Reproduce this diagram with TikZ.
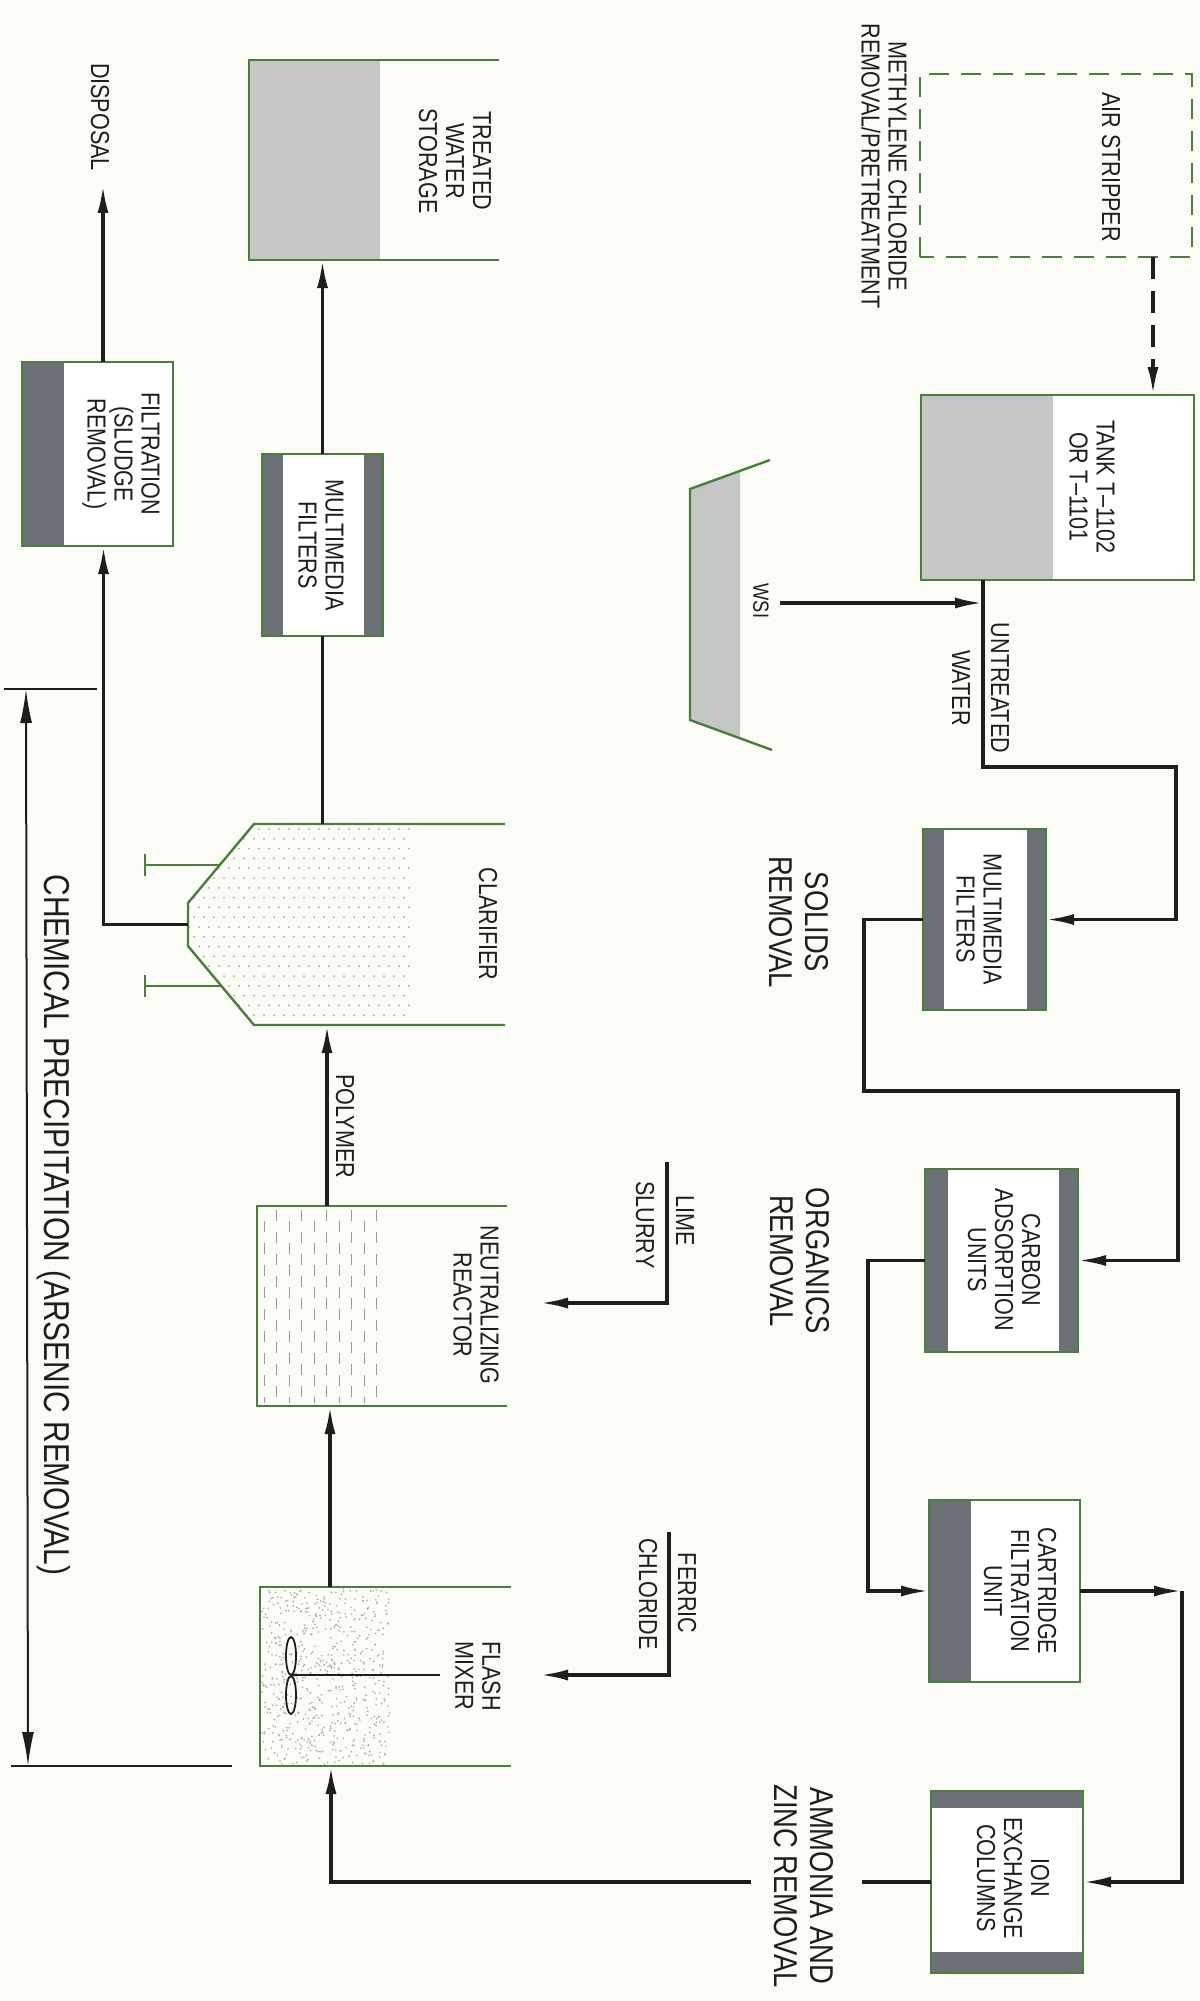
\documentclass[tikz,border=0pt]{standalone}
\usepackage{fontspec}
\setmainfont[FakeStretch=0.83]{Liberation Sans}
\usetikzlibrary{arrows.meta,calc}
\definecolor{bg}{HTML}{FCFCF6}
\definecolor{grn}{RGB}{72,128,58}
\definecolor{lgray}{HTML}{C5C7C7}
\definecolor{dgray}{HTML}{6C7077}
\definecolor{ink}{HTML}{1E1E1E}
\newcommand{\smallf}{\fontsize{26}{27}\selectfont}
\newcommand{\bigf}{\fontsize{33}{36}\selectfont}
\newcommand{\hugef}{\fontsize{36}{38}\selectfont}
\newcommand{\tinyf}{\fontsize{22}{24}\selectfont}
\begin{document}
\begin{tikzpicture}[x=1pt,y=-1pt,
  unit/.style={rectangle,inner sep=0pt,outer sep=0pt,draw=grn,line width=2.4pt,fill=white},
  ghost/.style={rectangle,inner sep=0pt,outer sep=0pt},
  vessel/.style={draw=grn,line width=2.4pt,line join=miter},
  flow/.style={draw=ink,line width=3.4pt,-{Latex[length=28pt,width=11pt]}},
  plain/.style={draw=ink,line width=3.4pt},
  dflow/.style={draw=ink,line width=3.6pt,dash pattern=on 22pt off 12pt,-{Latex[length=28pt,width=11pt]}},
  dim/.style={draw=ink,line width=2pt},
  lbl/.style={rotate=-90,align=center,inner sep=0pt,text=ink,font=\smallf},
  biglbl/.style={lbl,font=\bigf},
  band/.style={fill=dgray}]
\useasboundingbox (0,0) rectangle (1199,2001);
\fill[bg] (0,0) rectangle (1199,2001);

% ---------- left column (chemical precipitation) ----------
% treated water storage
\node[ghost,minimum width=250pt,minimum height=200pt] (stor) at (374,160) {};
\fill[lgray] (stor.north west) rectangle ([xshift=131pt]stor.south west);
\draw[vessel] (stor.north east) -- (stor.north west) -- (stor.south west) -- (stor.south east);
\node[lbl] (stort) at (455,161) {TREATED\\WATER\\STORAGE};

% multimedia filters (lower)
\node[unit,minimum width=121pt,minimum height=182pt] (mmf2) at (322.5,545) {};
\fill[band] (mmf2.south west) rectangle ([xshift=21pt]mmf2.north west);
\fill[band] (mmf2.south east) rectangle ([xshift=-19pt]mmf2.north east);
\draw[grn,line width=2.4pt] (mmf2.south west) rectangle (mmf2.north east);
\node[lbl] (mmf2t) at (321,545) {MULTIMEDIA\\FILTERS};

% filtration (sludge removal)
\node[unit,minimum width=151pt,minimum height=184pt] (filt) at (97.5,454) {};
\fill[band] (filt.south west) rectangle ([xshift=42pt]filt.north west);
\draw[grn,line width=2.4pt] (filt.south west) rectangle (filt.north east);
\node[lbl] (filtt) at (121,454) {FILTRATION\\(SLUDGE\\REMOVAL)};

\node[lbl] (dispt) at (100,117) {DISPOSAL};
\coordinate (disp) at (103,185);

% clarifier
\node[ghost,minimum width=317pt,minimum height=201pt] (clar) at (346.5,924.5) {};
\begin{scope}
  \clip (413,824) -- (254,824) -- (188,903) -- (188,946) -- (254,1025) -- (413,1025) -- cycle;
  \foreach \r in {0,...,20}
    \foreach \c in {0,...,23}
      \fill[gray!70] ({189+\c*10+mod(\r,2)*5},{829+\r*9.8}) circle (1);
\end{scope}
\draw[vessel] (505,824) -- (254,824) -- (188,903) -- (188,946) -- (254,1025) -- (505,1025);
\draw[vessel] (220,865) -- (145,865) (145,854) -- (145,876);
\draw[vessel] (221,986) -- (145,986) (145,975) -- (145,997);
\node[lbl] (clart) at (488,924) {CLARIFIER};

\node[lbl] (polyt) at (345,1126) {POLYMER};

% neutralizing reactor
\node[ghost,minimum width=250pt,minimum height=200pt] (neut) at (382,1306) {};
\foreach \x [count=\k] in {264,276.5,...,377}
  \draw[gray!80,line width=1pt,dash pattern=on 11pt off 11pt,dash phase={mod(\k,2)*11pt}] (\x,1210) -- (\x,1403);
\draw[vessel] (neut.north east) -- (neut.north west) -- (neut.south west) -- (neut.south east);
\node[lbl] (neutt) at (476,1305) {NEUTRALIZING\\REACTOR};

% flash mixer
\node[ghost,minimum width=251pt,minimum height=179pt] (mix) at (385.5,1676.5) {};
\pgfmathsetseed{7}
\foreach \i in {1,...,650}
  \fill[gray!70] ({262+128*rnd},{1589+175*rnd}) circle (0.9);
\draw[vessel] (mix.north east) -- (mix.north west) -- (mix.south west) -- (mix.south east);
\draw[ink,line width=1.8pt] (291,1675) -- (440,1675);
\draw[ink,line width=1.8pt] (291,1656) ellipse (5 and 19);
\draw[ink,line width=1.8pt] (291,1695) ellipse (5 and 19);
\node[lbl] (mixt) at (478,1676) {FLASH\\MIXER};

% dimension
\coordinate (dimtop) at (26,689);
\coordinate (dimbot) at (28,1766);
\draw[dim] (4,689) -- (97,689);
\draw[dim] (11,1766) -- (232,1766);
\draw[dim,{Latex[length=34pt,width=12pt]}-{Latex[length=34pt,width=12pt]}] (dimtop) -- (dimbot);
\node[lbl,font=\hugef] (chemt) at (54,1225) {CHEMICAL PRECIPITATION (ARSENIC REMOVAL)};

% ---------- right column ----------
\node[lbl] (meth) at (884,166) {METHYLENE CHLORIDE\\REMOVAL/PRETREATMENT};

\node[ghost,minimum width=272pt,minimum height=183pt] (air) at (1056,165.5) {};
\draw[grn,line width=2.4pt,dash pattern=on 20pt off 12pt] (air.south west) rectangle (air.north east);
\node[lbl] (airt) at (1111,167) {AIR STRIPPER};

\node[unit,minimum width=273pt,minimum height=185pt] (tank) at (1057.5,487.5) {};
\fill[lgray] (tank.north west) rectangle ([xshift=132pt]tank.south west);
\draw[grn,line width=2.4pt] (tank.south west) rectangle (tank.north east);
\node[lbl] (tankt) at (1092,487) {TANK T--1102\\OR T--1101};

% WSI
\node[ghost,minimum width=82pt,minimum height=290pt] (wsi) at (731,605) {};
\fill[lgray] (740,471) -- (690,489) -- (690,720) -- (740,738) -- cycle;
\draw[vessel] (770,460) -- (690,489) -- (690,720) -- (772,750);
\node[lbl,font=\tinyf] (wsit) at (761,601) {WSI};

\node[lbl] (untr1) at (1000,688) {UNTREATED};
\node[lbl] (untr2) at (961,688) {WATER};

% multimedia filters (upper)
\node[unit,minimum width=123pt,minimum height=181pt] (mmf1) at (984.5,919.5) {};
\fill[band] (mmf1.south west) rectangle ([xshift=21pt]mmf1.north west);
\fill[band] (mmf1.south east) rectangle ([xshift=-19pt]mmf1.north east);
\draw[grn,line width=2.4pt] (mmf1.south west) rectangle (mmf1.north east);
\node[lbl] (mmf1t) at (979,919) {MULTIMEDIA\\FILTERS};

\node[biglbl] (solt) at (799,922) {SOLIDS\\REMOVAL};

% carbon adsorption
\node[unit,minimum width=153pt,minimum height=183pt] (carb) at (1001.5,1260.5) {};
\fill[band] (carb.south west) rectangle ([xshift=23pt]carb.north west);
\fill[band] (carb.south east) rectangle ([xshift=-19pt]carb.north east);
\draw[grn,line width=2.4pt] (carb.south west) rectangle (carb.north east);
\node[lbl] (carbt) at (1004,1260) {CARBON\\ADSORPTION\\UNITS};

\node[biglbl] (orgt) at (800,1261) {ORGANICS\\REMOVAL};

\node[lbl] (lime1) at (685,1221) {LIME};
\node[lbl] (lime2) at (645,1225) {SLURRY};

% cartridge filtration
\node[unit,minimum width=151pt,minimum height=182pt] (cart) at (1004.5,1591) {};
\fill[band] (cart.south west) rectangle ([xshift=42pt]cart.north west);
\draw[grn,line width=2.4pt] (cart.south west) rectangle (cart.north east);
\node[lbl] (cartt) at (1020,1591) {CARTRIDGE\\FILTRATION\\UNIT};

\node[lbl] (fer1) at (687,1593) {FERRIC};
\node[lbl] (fer2) at (648,1594) {CHLORIDE};

% ion exchange
\node[unit,minimum width=152pt,minimum height=182pt] (ion) at (1007,1882) {};
\fill[band] (ion.north west) rectangle ([yshift=-17pt]ion.north east);
\fill[band] (ion.south west) rectangle ([yshift=21pt]ion.south east);
\draw[grn,line width=2.4pt] (ion.south west) rectangle (ion.north east);
\node[lbl] (iont) at (1013,1878) {ION\\EXCHANGE\\COLUMNS};

\node[biglbl] (ammt) at (804,1886) {AMMONIA AND\\ZINC REMOVAL};

% ---------- connectors ----------
\coordinate (dx) at (1153,0);
\draw[dflow] (air.south -| dx) -- (tank.north -| dx);
\coordinate (tout) at ([xshift=-74.5pt]tank.south);
\coordinate (c1) at (1176,767);
\draw[flow] (tout) |- (c1) |- (mmf1.east);
\coordinate (wsis) at (780,603);
\draw[flow] (wsis) -- (wsis -| tout);
\coordinate (c2) at (864,1091);
\coordinate (c3) at (1178,1091);
\draw[flow] (mmf1.west) -| (c2) -- (c3) |- (carb.east);
\draw[flow] (carb.west) -- ++(-57,0) |- (cart.west);
\coordinate (c4) at (1182,0);
\draw[flow] (cart.east) -- (cart.east -| c4);
\draw[flow] (cart.east -| c4) |- (ion.east);
\coordinate (g1) at (862,1882);
\coordinate (g2) at (751,1882);
\draw[plain] (ion.west) -- (g1);
\draw[flow] (g2) -| ([xshift=-54.5pt]mix.south);
\draw[flow] ([xshift=-55.5pt]mix.north) -- ([xshift=-55.5pt]mix.north |- neut.south);
\draw[flow] ([xshift=-55pt]neut.north) -- ([xshift=-55pt]neut.north |- clar.south);
\draw[plain] (clar.north -| mmf2.south) -- (mmf2.south);
\draw[flow] (mmf2.north) -- (mmf2.north |- stor.south);
\draw[flow] (clar.west) -| ([xshift=6pt]filt.south);
\draw[flow] ([xshift=5.5pt]filt.north) -- (disp);
\coordinate (limetop) at (667,1162);
\coordinate (limetip) at (540,1303);
\draw[flow] (limetop) |- (limetip);
\coordinate (fertop) at (669,1532);
\coordinate (fertip) at (540,1675);
\draw[flow] (fertop) |- (fertip);
\end{tikzpicture}
\end{document}
